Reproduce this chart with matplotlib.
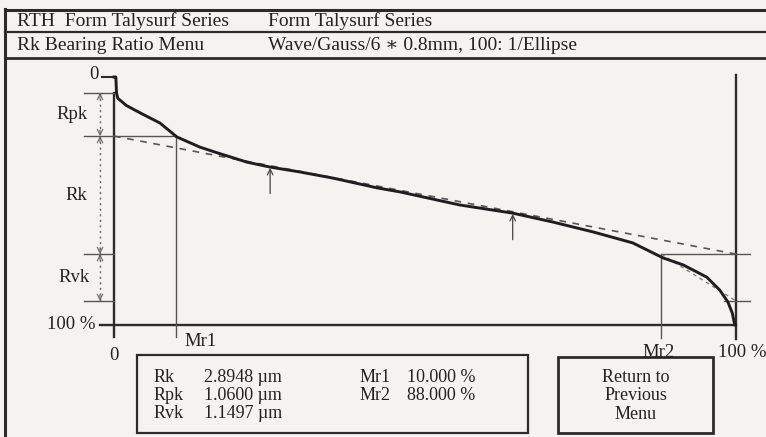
import numpy as np
import matplotlib
matplotlib.use('Agg')
import matplotlib.pyplot as plt
from matplotlib.patches import Rectangle

# material ratio (Abbott) curve
mr_pct = [0.0, 0.3, 0.4, 0.6, 2.0, 4.2, 7.4, 10.1, 13.8, 16.6, 21.4, 25.1, 29.9,
          35.2, 42.3, 46.0, 55.6, 64.1, 70.6, 77.0, 83.4, 88.3, 91.5, 95.3,
          97.4, 98.7, 99.4, 99.8]
depth_um = [0.0, 0.0, 0.39, 0.52, 0.70, 0.88, 1.13, 1.47, 1.72, 1.86, 2.09, 2.21,
            2.33, 2.48, 2.72, 2.82, 3.14, 3.34, 3.56, 3.80, 4.07, 4.44, 4.61,
            4.91, 5.23, 5.52, 5.79, 6.08]

# Rk parameters
rk = 2.8948
rpk = 1.0600
rvk = 1.1497
mr1 = 10.0
mr2 = 88.0
rk_top = 1.45          # depth of upper Rk level
win_lo, win_hi = 25.1, 64.1   # 40 % secant window (arrows)

header_left = ['RTH  Form Talysurf Series', 'Rk Bearing Ratio Menu']
header_right = ['Form Talysurf Series', 'Wave/Gauss/6 \u2217 0.8mm, 100: 1/Ellipse']
par_names = ['Rk', 'Rpk', 'Rvk']
par_values = ['2.8948 \u00b5m', '1.0600 \u00b5m', '1.1497 \u00b5m']
mr_names = ['Mr1', 'Mr2']
mr_values = ['10.000 %', '88.000 %']

W, H = 766, 437
BG = '#f4f3ef'
INK = '#2b2b2b'
FONT = ['Liberation Serif', 'DejaVu Serif']
plt.rcParams['font.family'] = FONT

fig = plt.figure(figsize=(W / 100, H / 100), dpi=100, facecolor=BG)

# screen furniture in pixel coordinates
frame = fig.add_axes([0, 0, 1, 1])
frame.set_xlim(0, W)
frame.set_ylim(H, 0)
frame.axis('off')
frame.set_facecolor(BG)

frame.plot([5, 5], [9, H], color=INK, lw=2.2)
for yy, lw in [(9.5, 2.2), (32, 1.6), (58, 2.0)]:
    frame.plot([5, W], [yy, yy], color=INK, lw=lw)
for i, (l, r) in enumerate(zip(header_left, header_right)):
    yc = 21 + i * 24
    frame.text(17, yc, l, fontsize=14, va='center', color='#222')
    frame.text(268, yc, r, fontsize=14, va='center', color='#222')

frame.add_patch(Rectangle((137, 355), 391, 78, fill=False, ec=INK, lw=1.6))
for i in range(3):
    yc = 377 + i * 18
    frame.text(154, yc, par_names[i], fontsize=13, va='center', color='#222')
    frame.text(204, yc, par_values[i], fontsize=13, va='center', color='#222')
for i in range(2):
    yc = 377 + i * 18
    frame.text(360, yc, mr_names[i], fontsize=13, va='center', color='#222')
    frame.text(407, yc, mr_values[i], fontsize=13, va='center', color='#222')

frame.add_patch(Rectangle((558, 357), 155, 76, fill=False, ec=INK, lw=2.0))
frame.text(636, 396, 'Return to\nPrevious\nMenu', fontsize=13, ha='center',
           va='center', linespacing=1.15, color='#222')

# plot axes: x in % material ratio, y in depth (um), same pixel grid
ax = fig.add_axes([0, 0, 1, 1])
ax.patch.set_alpha(0)
ax.axis('off')
px_x, px_y = 6.22, 40.76
x0, y0 = 114, 77
ax.set_xlim(-x0 / px_x, (W - x0) / px_x)
ax.set_ylim((H - y0) / px_y, -y0 / px_y)

rk_bot = rk_top + rk
rpk_top = rk_top - rpk
rvk_bot = rk_bot + rvk
d_max = max(depth_um)

# axes lines
ax.plot([0, 0], [rpk_top, d_max + 0.3], color=INK, lw=1.7)
ax.plot([100, 100], [-0.05, d_max + 0.35], color=INK, lw=1.7)
ax.plot([-2.2, 100], [d_max, d_max], color=INK, lw=1.7)
ax.plot([-1.9, 0.2], [0, 0], color=INK, lw=1.5)

# level lines
lv = dict(color='#555', lw=1.0)
ax.plot([-4.8, 0], [rpk_top, rpk_top], **lv)
ax.plot([-4.8, mr1], [rk_top, rk_top], **lv)
ax.plot([-4.8, 0], [rk_bot, rk_bot], **lv)
ax.plot([-4.8, 0], [rvk_bot, rvk_bot], **lv)
ax.plot([mr2, 102.3], [rk_bot, rk_bot], **lv)
ax.plot([98.0, 102.3], [rvk_bot, rvk_bot], **lv)
ax.plot([mr1, mr1], [rk_top, d_max + 0.3], **lv)
ax.plot([mr2, mr2], [rk_bot, d_max + 0.32], **lv)

# secant and Rvk triangle
ax.plot([0, 100], [rk_top, rk_bot], color='#555', lw=1.2, dashes=(4, 4))
ax.plot([mr2, 100], [rk_bot, rvk_bot], color='#777', lw=0.9, dashes=(3, 3))

# bearing curve
ax.plot(mr_pct, depth_um, color='#1e1e1e', lw=2.1, solid_joinstyle='round')

# window arrows
for m in (win_lo, win_hi):
    d = np.interp(m, mr_pct, depth_um)
    ax.annotate('', xy=(m, d + 0.02), xytext=(m, d + 0.65),
                arrowprops=dict(arrowstyle='->', color='#444', lw=0.9,
                                shrinkA=0, shrinkB=0))

# dotted dimension arrows for Rpk, Rk, Rvk
xa = -2.25
for a, b in [(rpk_top, rk_top), (rk_top, rk_bot), (rk_bot, rvk_bot)]:
    ax.plot([xa, xa], [a, b], color='#666', lw=1.0, ls=(0, (1.5, 2.5)))
    for tip, tail in [(a, a + 0.15), (b, b - 0.15)]:
        ax.annotate('', xy=(xa, tip), xytext=(xa, tail),
                    arrowprops=dict(arrowstyle='->', color='#666', lw=0.8,
                                    shrinkA=0, shrinkB=0))

tk = dict(fontsize=13.5, color='#222', va='center')
ax.text(-4.3, (rpk_top + rk_top) / 2, 'Rpk', ha='right', **tk)
ax.text(-4.3, (rk_top + rk_bot) / 2, 'Rk', ha='right', **tk)
ax.text(-3.9, (rk_bot + rvk_bot) / 2, 'Rvk', ha='right', **tk)
ax.text(-2.5, -0.05, '0', ha='right', **tk)
ax.text(-3.0, d_max, '100 %', ha='right', **tk)
ax.text(0, d_max + 0.75, '0', ha='center', **tk)
ax.text(mr1 + 1.4, d_max + 0.4, 'Mr1', ha='left', **tk)
ax.text(mr2 - 0.5, d_max + 0.68, 'Mr2', ha='center', **tk)
ax.text(101.0, d_max + 0.68, '100 %', ha='center', **tk)

fig.savefig('out.png', dpi=100, facecolor=BG)
